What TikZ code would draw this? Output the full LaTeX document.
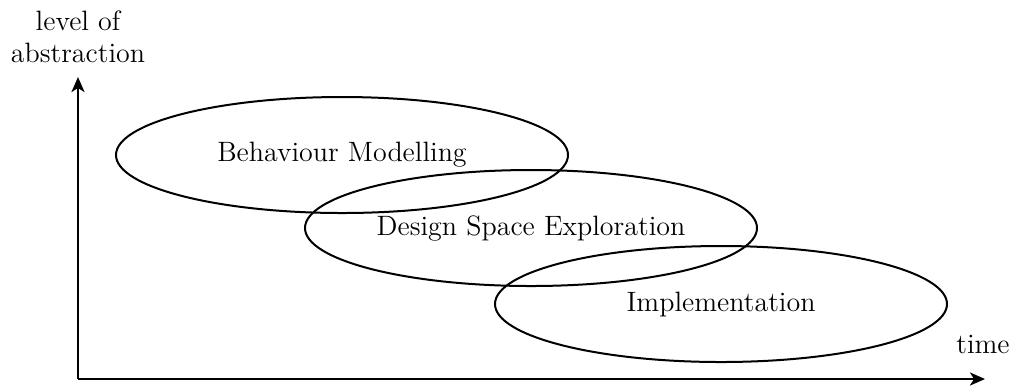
\documentclass[tikz,border=0pt]{standalone}
\usepackage{tikz}
\usetikzlibrary{positioning}
\usetikzlibrary{shapes.geometric}
\usetikzlibrary{arrows.meta}
\tikzset{
 x=0.5pt, y=-0.5pt,
   phase/.style = {%
    shape=ellipse,
    draw=black,
    line width=1pt,
    minimum width=226pt,
    minimum height=58pt,
    inner sep=0pt,
    font=\fontsize{14}{16}\selectfont},
 axis/.style = {%
    draw=black,
    line width=1.3pt,
    -{Stealth[length=7.5pt,width=6.5pt,inset=2pt]}},
 axislabel/.style = {%
    align=center,
    inner sep=0pt,
    font=\fontsize{14}{16}\selectfont},
    }

\begin{document}
\begin{tikzpicture}
    \useasboundingbox (0,0) rectangle (1015,388);
    \coordinate (origin) at (78,379);
    \coordinate (ytop) at (78,77);
    \coordinate (xend) at (985,379);
    \draw[axis] (origin) -- (ytop);
    \draw[axis] (origin) -- (xend);
    \node[axislabel] (abstr) at (78,37) {level of\\abstraction};
    \node[axislabel] (time) at (983,344) {time};
    % phases
    \node[phase] (behaviour) at (342,155) {Behaviour Modelling};
    \node[phase] (dse) at (531,228) {Design Space Exploration};
    \node[phase] (impl) at (721,304) {Implementation};
\end{tikzpicture}
\end{document}
